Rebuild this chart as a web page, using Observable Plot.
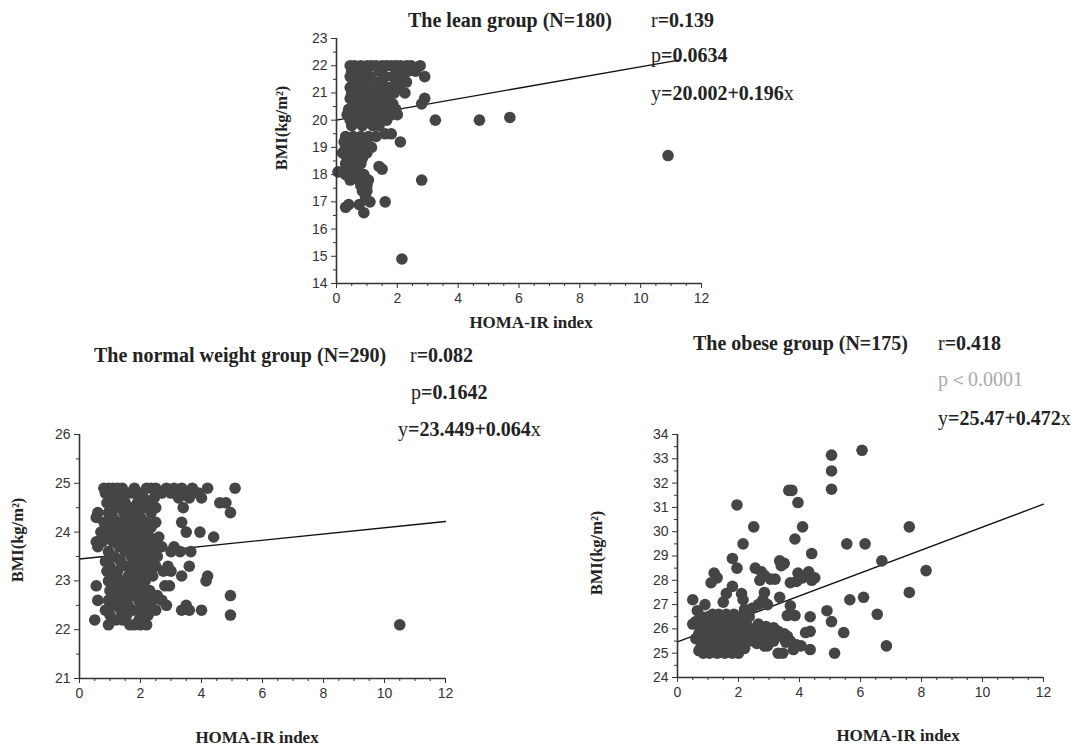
<!DOCTYPE html>
<html><head><meta charset="utf-8">
<script src="https://cdn.jsdelivr.net/npm/d3@7"></script>
<script src="https://cdn.jsdelivr.net/npm/@observablehq/plot@0.6"></script>
<style>
body{margin:0;background:#fff;}
#wrap{position:relative;width:1077px;height:746px;overflow:hidden;background:#fff;}
.t{position:absolute;font-family:"Liberation Serif","Times New Roman",serif;font-weight:bold;font-size:20px;color:#222;white-space:nowrap;transform:translateY(-50%);line-height:1;}
.t .n{font-weight:normal;}
.gray{color:#aaa;}
.ax{position:absolute;font-family:"Liberation Serif","Times New Roman",serif;font-weight:bold;font-size:17px;color:#222;white-space:nowrap;transform:translate(-50%,-50%);line-height:1;}
.ay{position:absolute;font-family:"Liberation Serif","Times New Roman",serif;font-weight:bold;font-size:16.5px;color:#222;white-space:nowrap;transform:translate(-50%,-50%) rotate(-90deg);line-height:1;}
.plot{position:absolute;}
</style>
</head><body><div id="wrap"></div>
<script>
// ---------- data (HOMA-IR index, BMI) ----------
const xTicks = [0, 2, 4, 6, 8, 10, 12];
const leanYTicks = [14, 15, 16, 17, 18, 19, 20, 21, 22, 23];
const normalYTicks = [21, 22, 23, 24, 25, 26];
const obeseYTicks = [24, 25, 26, 27, 28, 29, 30, 31, 32, 33, 34];

const titles = ["The lean group (N=180)", "The normal weight group (N=290)", "The obese group (N=175)"];
const rValues = ["0.139", "0.082", "0.418"];
const pValues = ["=0.0634", "=0.1642", "＜0.0001"];
const intercepts = [20.002, 23.449, 25.47];
const slopes = [0.196, 0.064, 0.472];
const fitXEnd = [11.25, 12, 12];

const leanPoints = [
 [0.45,22],[0.6,22],[0.8,22],[1.0,22],[1.15,22],[1.3,22],[1.5,22],[1.65,22],[1.8,22],[1.95,22],[2.1,22],[2.3,22],[2.45,22],[2.75,22],
 [0.5,21.8],[0.9,21.8],[1.4,21.8],[2.0,21.8],[2.35,21.8],[2.6,21.8],
 [0.45,21.6],[0.7,21.6],[1.1,21.6],[1.6,21.6],[1.85,21.6],[2.15,21.6],[2.9,21.6],
 [0.55,21.4],[0.85,21.4],[1.3,21.4],[1.5,21.4],[2.0,21.4],[2.3,21.4],
 [0.45,21.2],[0.75,21.2],[1.05,21.2],[1.45,21.2],[1.75,21.2],[2.05,21.2],
 [0.5,21.0],[0.9,21.0],[1.2,21.0],[1.55,21.0],[1.9,21.0],[2.25,21.0],
 [0.45,20.8],[0.7,20.8],[1.0,20.8],[1.35,20.8],[1.7,20.8],[2.9,20.8],
 [0.55,20.6],[0.85,20.6],[1.15,20.6],[1.5,20.6],[1.85,20.6],[2.8,20.6],
 [0.4,20.4],[0.75,20.4],[1.05,20.4],[1.3,20.4],[1.6,20.4],[1.95,20.4],
 [0.35,20.2],[0.6,20.2],[0.95,20.2],[1.25,20.2],[1.55,20.2],[1.8,20.2],[2.0,20.2],
 [0.45,20.0],[0.75,20.0],[1.1,20.0],[1.45,20.0],[1.65,20.0],[3.25,20.0],[4.7,20.0],
 [5.7,20.1],
 [0.5,19.8],[0.85,19.8],[1.2,19.8],[1.4,19.8],
 [1.6,19.5],[1.8,19.5],
 [0.3,19.4],[0.55,19.4],[0.8,19.4],[1.05,19.4],[1.3,19.4],
 [0.25,19.2],[0.5,19.2],[0.75,19.2],[1.0,19.2],[2.1,19.2],
 [0.3,19.0],[0.6,19.0],[0.9,19.0],[1.15,19.0],
 [0.2,18.8],[0.45,18.8],[0.7,18.8],[1.0,18.8],
 [10.9,18.7],
 [0.35,18.6],[0.6,18.6],[0.85,18.6],
 [0.3,18.4],[0.55,18.4],[0.8,18.4],
 [1.4,18.3],
 [0.45,18.2],[0.7,18.2],[1.5,18.2],
 [0.05,18.1],[0.2,18.1],
 [0.3,18.0],[0.6,18.0],[0.9,18.0],
 [0.45,17.8],[0.75,17.8],[1.05,17.8],[2.8,17.8],
 [0.8,17.6],[1.0,17.6],
 [0.85,17.4],[1.0,17.4],
 [0.95,17.2],
 [1.1,17.0],[1.6,17.0],
 [0.4,16.9],[0.75,16.9],
 [0.3,16.8],
 [0.9,16.6],
 [2.15,14.9]
];

const normalPoints = [
 [0.8,24.9],[0.95,24.9],[1.1,24.9],[1.25,24.9],[1.4,24.9],[1.8,24.9],[2.2,24.9],[2.35,24.9],[2.5,24.9],[2.85,24.9],[3.1,24.9],[3.35,24.9],[3.7,24.9],[4.2,24.9],[5.1,24.9],
 [0.85,24.8],[1.6,24.8],[1.75,24.8],[2.0,24.8],[2.7,24.8],[3.0,24.8],[3.5,24.8],[3.9,24.8],
 [1.05,24.7],[1.3,24.7],[2.1,24.7],[2.45,24.7],[3.25,24.7],[3.6,24.7],[4.0,24.7],
 [0.9,24.6],[1.5,24.6],[1.9,24.6],[2.3,24.6],[4.6,24.6],[4.8,24.6],
 [1.2,24.5],[1.7,24.5],[2.15,24.5],[2.5,24.5],[3.4,24.5],
 [0.6,24.4],[0.95,24.4],[1.45,24.4],[1.85,24.4],[2.35,24.4],[4.95,24.4],
 [0.55,24.3],[1.1,24.3],[1.6,24.3],[2.0,24.3],
 [0.8,24.2],[1.3,24.2],[1.75,24.2],[2.2,24.2],[2.5,24.2],[3.35,24.2],
 [1.0,24.1],[1.5,24.1],[1.95,24.1],[2.35,24.1],
 [0.7,24.0],[1.2,24.0],[1.65,24.0],[2.1,24.0],[3.5,24.0],[3.95,24.0],
 [0.9,23.9],[1.4,23.9],[1.85,23.9],[2.3,23.9],[2.6,23.9],[4.4,23.9],
 [0.55,23.8],[0.75,23.8],[1.1,23.8],[1.6,23.8],[2.05,23.8],[2.45,23.8],
 [0.6,23.7],[1.3,23.7],[1.8,23.7],[2.2,23.7],[2.7,23.7],[3.1,23.7],
 [0.95,23.6],[1.5,23.6],[1.95,23.6],[2.4,23.6],[3.0,23.6],[3.3,23.6],[3.65,23.6],
 [1.15,23.5],[1.7,23.5],[2.15,23.5],[2.55,23.5],
 [0.85,23.4],[1.35,23.4],[1.85,23.4],[2.3,23.4],
 [1.0,23.3],[1.55,23.3],[2.0,23.3],[2.5,23.3],[2.9,23.3],[3.6,23.3],
 [0.9,23.2],[1.25,23.2],[1.75,23.2],[2.2,23.2],[2.75,23.2],[3.0,23.2],
 [1.1,23.1],[1.6,23.1],[1.95,23.1],[2.4,23.1],[3.35,23.1],[4.2,23.1],
 [0.95,23.0],[1.4,23.0],[1.8,23.0],[2.15,23.0],[4.15,23.0],
 [0.55,22.9],[1.2,22.9],[1.65,22.9],[2.05,22.9],[2.8,22.9],[2.95,22.9],
 [1.0,22.8],[1.5,22.8],[1.9,22.8],[2.3,22.8],
 [1.25,22.7],[1.7,22.7],[2.1,22.7],[2.55,22.7],[4.95,22.7],
 [0.6,22.6],[0.95,22.6],[1.45,22.6],[1.95,22.6],[2.4,22.6],[2.7,22.6],
 [1.15,22.5],[1.6,22.5],[2.2,22.5],[2.85,22.5],[3.5,22.5],
 [0.85,22.4],[1.35,22.4],[1.8,22.4],[2.05,22.4],[2.5,22.4],[3.35,22.4],[3.6,22.4],[4.0,22.4],
 [1.0,22.3],[1.55,22.3],[2.25,22.3],[4.95,22.3],
 [0.5,22.2],[1.2,22.2],[1.4,22.2],[1.95,22.2],
 [0.95,22.1],[1.65,22.1],[1.8,22.1],[2.0,22.1],[2.2,22.1],[10.5,22.1]
];

const obesePoints = [
 [6.05,33.35],[5.05,33.15],[5.05,32.5],[5.05,31.75],[3.65,31.7],[3.75,31.7],[3.95,31.2],[1.95,31.1],
 [2.5,30.2],[4.1,30.2],[7.6,30.2],[2.15,29.5],[5.55,29.5],[6.15,29.5],[3.85,29.7],[4.4,29.1],
 [6.7,28.8],[8.15,28.4],[7.6,27.5],[6.1,27.3],[5.65,27.2],[6.55,26.6],[6.85,25.3],[5.45,25.85],[5.15,25.0],
 [4.9,26.75],[5.05,26.3],[4.35,26.5],[4.35,25.9],[4.2,25.85],[4.35,25.15],[3.9,25.35],[4.05,25.3],[3.8,25.15],
 [3.3,25.0],[3.45,25.0],[3.6,26.55],[3.85,26.55],[3.7,26.95],[3.7,27.9],[3.4,28.6],[3.5,28.7],[3.35,28.8],
 [3.95,28.3],[3.9,27.95],[4.1,28.1],[4.2,28.2],[4.3,28.35],[4.5,28.1],[4.4,28.0],[3.35,27.3],
 [3.05,28.05],[3.2,28.05],[2.55,28.5],[2.75,28.35],[2.7,28.0],[2.85,28.2],[2.85,27.5],[2.8,27.2],[2.95,27.0],[2.65,27.0],
 [1.8,28.9],[1.95,28.5],[1.2,28.3],[1.3,28.1],[1.1,27.9],[1.8,27.75],[1.6,27.45],[1.5,27.1],[2.1,27.45],[2.15,27.2],
 [2.2,26.8],[2.45,26.85],[0.5,27.2],[0.9,27.0],[0.65,26.75],[0.6,26.3],[0.5,26.2],
 [1.15,26.6],[1.35,26.6],[1.6,26.6],[1.85,26.6],
 [0.8,26.5],[1.0,26.5],[1.5,26.5],[2.1,26.5],[2.35,26.5],
 [1.25,26.4],[1.7,26.4],[2.0,26.4],
 [0.75,26.3],[1.05,26.3],[1.45,26.3],[1.9,26.3],[2.2,26.3],
 [1.25,26.2],[1.65,26.2],[2.05,26.2],[2.65,26.2],
 [0.9,26.1],[1.5,26.1],[1.8,26.1],[2.3,26.1],[2.9,26.1],[3.15,26.05],
 [0.75,26.0],[1.1,26.0],[1.35,26.0],[1.95,26.0],[2.2,26.0],[2.5,26.0],[2.75,26.0],[3.0,26.0],
 [0.9,25.9],[1.6,25.9],[1.8,25.9],[2.4,25.9],[3.3,25.9],
 [0.7,25.8],[1.05,25.8],[1.3,25.8],[1.5,25.8],[2.05,25.8],[2.6,25.8],[2.85,25.8],[3.1,25.8],[3.5,25.8],
 [0.85,25.7],[1.2,25.7],[1.75,25.7],[2.25,25.7],[2.45,25.7],[3.25,25.7],[3.4,25.7],[3.6,25.7],
 [0.6,25.6],[1.0,25.6],[1.45,25.6],[1.9,25.6],[2.55,25.6],[2.7,25.6],[3.0,25.6],
 [0.8,25.5],[1.25,25.5],[1.65,25.5],[2.1,25.5],[2.35,25.5],[2.9,25.5],[3.15,25.5],[3.55,25.45],[3.7,25.5],
 [1.05,25.4],[1.5,25.4],[1.85,25.4],[2.6,25.4],
 [0.9,25.3],[1.3,25.3],[1.75,25.3],[2.0,25.3],[2.85,25.3],[2.95,25.3],
 [0.75,25.2],[1.15,25.2],[1.6,25.2],[2.2,25.2],
 [0.7,25.1],[1.0,25.1],[1.4,25.1],[1.85,25.1],
 [0.85,25.0],[1.05,25.0],[1.3,25.0],[1.55,25.0],[1.8,25.0],[2.0,25.0]
];

// ---------- drawing ----------
const wrap = document.getElementById("wrap");
const tickFont = '"Liberation Sans", Arial, sans-serif';

function scatter(points, yTicks, idx, box) {
  const yMin = yTicks[0], yMax = yTicks[yTicks.length - 1];
  const fit = [0, fitXEnd[idx]].map(x => ({x, y: intercepts[idx] + slopes[idx] * x}));
  const yMinor = d3.range(yMin, yMax + 0.001, 0.5).filter(v => !yTicks.includes(v));
  const xMinor = d3.range(0, 12.001, 0.5).filter(v => !xTicks.includes(v));
  const svg = Plot.plot({
    width: box.w, height: box.h,
    marginLeft: box.ml, marginRight: box.mr, marginTop: box.mt, marginBottom: box.mb,
    x: {domain: [0, 12]},
    y: {domain: [yMin, yMax]},
    style: {fontFamily: tickFont, fontSize: "14px", color: "#333", background: "transparent", overflow: "visible"},
    marks: [
      Plot.line(fit, {x: "x", y: "y", stroke: "#111", strokeWidth: 1.3}),
      Plot.dot(points, {x: d => d[0], y: d => d[1], r: 5.8, fill: "#454545", stroke: "none"}),
      Plot.ruleX([0], {stroke: "#333", strokeWidth: 1.6}),
      Plot.ruleY([yMin], {stroke: "#333", strokeWidth: 1.6}),
      Plot.axisY(yTicks, {tickSize: 5, tickPadding: 4, label: null, tickFormat: d => String(d)}),
      Plot.axisY(yMinor, {tickSize: 3, label: null, tickFormat: () => ""}),
      Plot.axisX(xTicks, {tickSize: 5, tickPadding: 5, label: null, tickFormat: d => String(d)}),
      Plot.axisX(xMinor, {tickSize: 3, label: null, tickFormat: () => ""})
    ]
  });
  svg.classList.add("plot");
  svg.style.left = box.left + "px";
  svg.style.top = box.top + "px";
  wrap.appendChild(svg);
}

function text(cls, html, x, y) {
  const d = document.createElement("div");
  d.className = cls;
  d.innerHTML = html;
  d.style.left = x + "px";
  d.style.top = y + "px";
  wrap.appendChild(d);
  return d;
}

// lean: axes x0=336, x12=701, y23=38, y14=283
scatter(leanPoints, leanYTicks, 0, {left: 270, top: 28, w: 450, h: 290, ml: 66, mr: 19, mt: 10, mb: 35});
// normal: x0=79, x12=445, y26=434, y21=678
scatter(normalPoints, normalYTicks, 1, {left: 20, top: 424, w: 445, h: 290, ml: 59, mr: 20, mt: 10, mb: 36});
// obese: x0=677, x12=1043, y34=434, y24=677
scatter(obesePoints, obeseYTicks, 2, {left: 620, top: 424, w: 440, h: 290, ml: 57, mr: 17, mt: 10, mb: 37});

const yLabel = "BMI(kg/m²)";
const xLabel = "HOMA-IR index";

// lean texts
text("t", titles[0], 408, 20);
text("t", '<span class="n">r</span>=' + rValues[0], 651, 20);
text("t", '<span class="n">p</span>' + pValues[0], 651, 55);
text("t", '<span class="n">y</span>=' + intercepts[0].toFixed(3) + '+' + slopes[0] + '<span class="n">x</span>', 651, 93);
text("ay", yLabel, 282, 128);
text("ax", xLabel, 531, 322);

// normal texts
text("t", titles[1], 94, 355);
text("t", '<span class="n">r</span>=' + rValues[1], 410, 355);
text("t", '<span class="n">p</span>' + pValues[1], 411, 392);
text("t", '<span class="n">y</span>=' + intercepts[1] + '+' + slopes[1] + '<span class="n">x</span>', 398, 429);
text("ay", yLabel, 18, 540);
text("ax", xLabel, 257, 737);

// obese texts
text("t", titles[2], 693, 343);
text("t", '<span class="n">r</span>=' + rValues[2], 938, 343);
text("t", '<span class="n gray">p' + pValues[2] + '</span>', 938, 379);
text("t", '<span class="n">y</span>=' + intercepts[2] + '+' + slopes[2] + '<span class="n">x</span>', 938, 418);
text("ay", yLabel, 597, 553);
text("ax", xLabel, 898, 735);
</script>
</body></html>
